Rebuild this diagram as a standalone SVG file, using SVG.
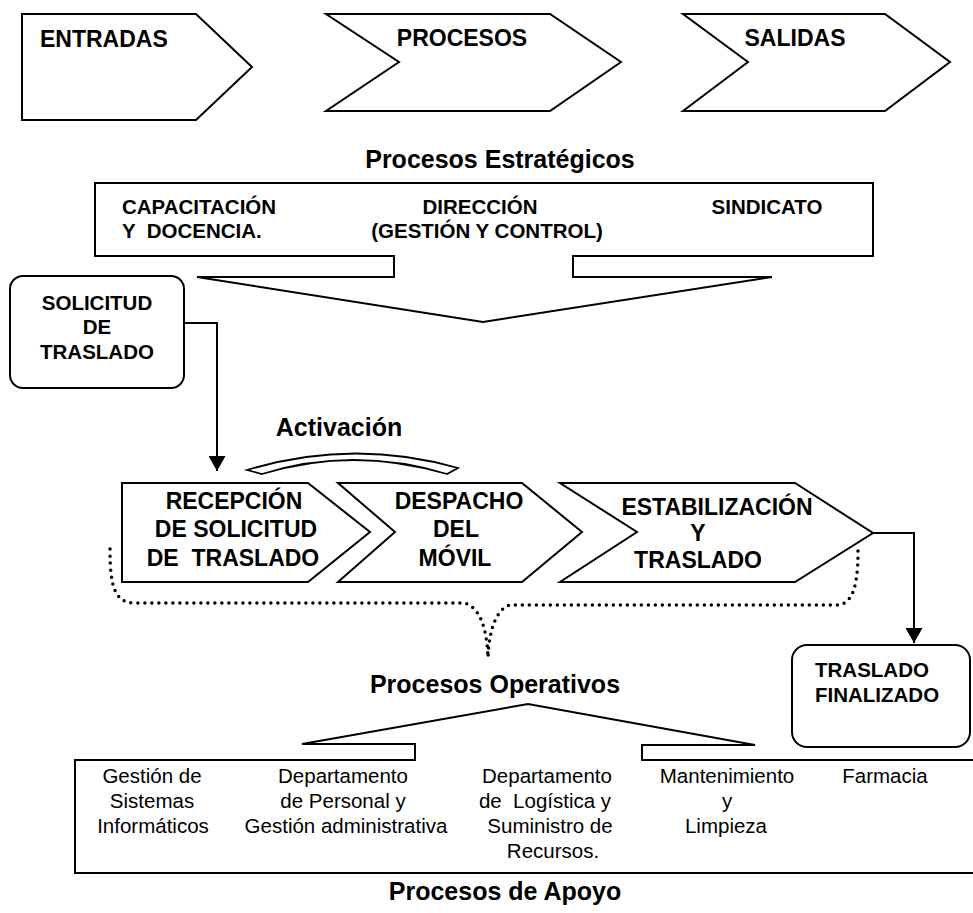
<svg xmlns="http://www.w3.org/2000/svg" width="973" height="913" viewBox="0 0 973 913">
<style>
.s{fill:#fff;stroke:#000;stroke-width:2;stroke-linejoin:miter}
.o{fill:none;stroke:#000;stroke-width:2}
.b{font-family:"Liberation Sans",Arial,sans-serif;font-weight:bold;fill:#000}
.r{font-family:"Liberation Sans",Arial,sans-serif;fill:#000}
.top{font-size:23px}
.h{font-size:25px}
.m{font-size:20.5px}
.c{font-size:23px}
.p{white-space:pre}
.dot{fill:none;stroke:#000;stroke-width:3.5;stroke-linecap:round;stroke-dasharray:0 7}
</style>
<defs>
<marker id="ah" markerUnits="userSpaceOnUse" markerWidth="16" markerHeight="17" refX="15" refY="8.5" orient="auto">
<path d="M0,0 L15,8.5 L0,17 Z" fill="#000"/>
</marker>
</defs>
<rect width="973" height="913" fill="#fff"/>

<g id="entradas">
<polygon class="s" points="22,14 196,14 252,67 196,120 22,120"/>
<text class="b top" x="40" y="47">ENTRADAS</text>
</g>
<g id="procesos">
<polygon class="s" points="326,14 550,14 621,62 550,111 326,111 399,62"/>
<text class="b top" x="462" y="46" text-anchor="middle">PROCESOS</text>
</g>
<g id="salidas">
<polygon class="s" points="683,14 885,14 950,62 885,111 683,111 748,62"/>
<text class="b top" x="795" y="46" text-anchor="middle">SALIDAS</text>
</g>

<g id="estrategicos">
<text class="b h" x="500" y="168" text-anchor="middle">Procesos Estratégicos</text>
<path class="s" d="M394,256 L95,256 L95,183 L873,183 L873,256 L573,256 L573,277 L772,277 L483,322 L197,277 L394,277 Z"/>
<text class="b m" x="122" y="214">CAPACITACIÓN</text>
<text class="b m p" x="122" y="238">Y  DOCENCIA.</text>
<text class="b m" x="480" y="214" text-anchor="middle">DIRECCIÓN</text>
<text class="b m" x="487" y="238" text-anchor="middle">(GESTIÓN Y CONTROL)</text>
<text class="b m" x="767" y="214" text-anchor="middle">SINDICATO</text>
</g>

<g id="solicitud">
<rect class="s" x="10" y="276" width="174" height="112" rx="13" ry="13"/>
<text class="b m" x="97" y="310" text-anchor="middle">SOLICITUD</text>
<text class="b m" x="97" y="334" text-anchor="middle">DE</text>
<text class="b m" x="97" y="359" text-anchor="middle">TRASLADO</text>
</g>

<g id="activacion">
<text class="b h" x="339" y="436" text-anchor="middle">Activación</text>
<path class="s" style="stroke-width:1.8" d="M247,470 Q353,438 458,468 L447,474 Q353,446 262,474 Z"/>
</g>

<g id="recepcion">
<polygon class="s" points="122,483 308,483 370,532 308,582 122,582"/>
<text class="b c" x="234" y="509" text-anchor="middle">RECEPCIÓN</text>
<text class="b c" x="236" y="537" text-anchor="middle">DE SOLICITUD</text>
<text class="b c p" x="233" y="566" text-anchor="middle">DE  TRASLADO</text>
</g>
<g id="despacho">
<polygon class="s" points="338,483 522,483 582,532 522,582 338,582 395,532"/>
<text class="b c" x="459" y="509" text-anchor="middle">DESPACHO</text>
<text class="b c" x="456" y="537" text-anchor="middle">DEL</text>
<text class="b c" x="455" y="566" text-anchor="middle">MÓVIL</text>
</g>
<g id="estabilizacion">
<polygon class="s" points="560,483 795,483 873,533 795,582 560,582 637,532"/>
<text class="b c" x="717" y="515" text-anchor="middle">ESTABILIZACIÓN</text>
<text class="b c" x="698" y="541" text-anchor="middle">Y</text>
<text class="b c" x="698" y="568" text-anchor="middle">TRASLADO</text>
</g>

<g id="operativos">
<path class="dot" d="M110,549 C110,585 114,603 135,603 L464,603 C478,606 487,625 488,658"/>
<path class="dot" d="M858,551 C858,588 852,605 836,605 L510,605 C497,609 489,628 488,658"/>
<text class="b h" x="495" y="693" text-anchor="middle">Procesos Operativos</text>
</g>

<g id="finalizado">
<rect class="s" x="792" y="645" width="178" height="102" rx="15" ry="15"/>
<text class="b m" x="815" y="677">TRASLADO</text>
<text class="b m" x="815" y="702">FINALIZADO</text>
</g>

<g id="apoyo">
<path class="s" d="M415,760 L415,744 L302,744 L528,704 L755,745 L642,745 L642,760 L976,760 L976,873 L75,873 L75,760 Z"/>
<text class="r m" x="152" y="783" text-anchor="middle">Gestión de</text>
<text class="r m" x="152" y="808" text-anchor="middle">Sistemas</text>
<text class="r m" x="153" y="833" text-anchor="middle">Informáticos</text>
<text class="r m" x="343" y="783" text-anchor="middle">Departamento</text>
<text class="r m" x="343" y="808" text-anchor="middle">de Personal y</text>
<text class="r m" x="346" y="833" text-anchor="middle">Gestión administrativa</text>
<text class="r m" x="547" y="783" text-anchor="middle">Departamento</text>
<text class="r m p" x="545" y="808" text-anchor="middle">de  Logística y</text>
<text class="r m" x="550" y="833" text-anchor="middle">Suministro de</text>
<text class="r m" x="553" y="858" text-anchor="middle">Recursos.</text>
<text class="r m" x="727" y="783" text-anchor="middle">Mantenimiento</text>
<text class="r m" x="727" y="808" text-anchor="middle">y</text>
<text class="r m" x="726" y="833" text-anchor="middle">Limpieza</text>
<text class="r m" x="885" y="783" text-anchor="middle">Farmacia</text>
<text class="b h" x="505" y="900" text-anchor="middle">Procesos de Apoyo</text>
</g>

<g id="connectors">
<path class="o" d="M184,323 H217 V471" marker-end="url(#ah)"/>
<path class="o" d="M873,533 H914 V643" marker-end="url(#ah)"/>
</g>
</svg>
